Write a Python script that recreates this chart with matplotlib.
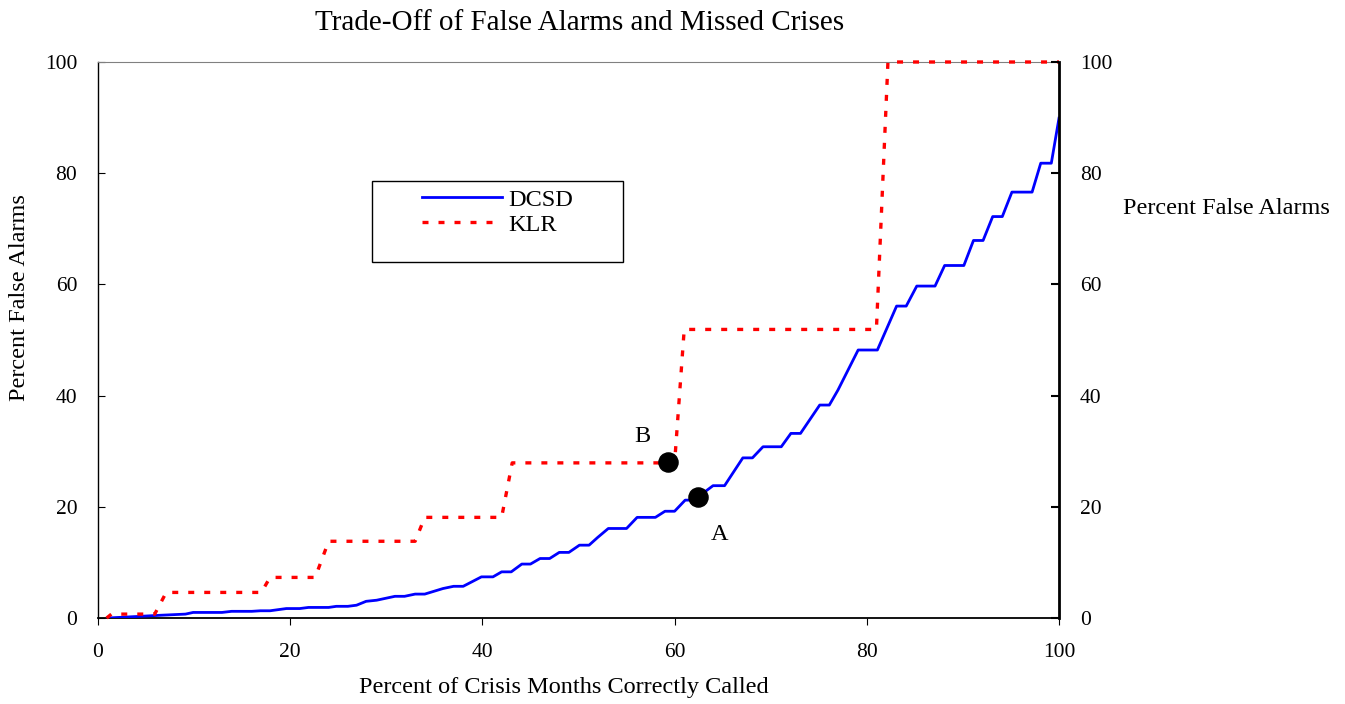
import matplotlib
matplotlib.use('Agg')
import matplotlib.pyplot as plt
from matplotlib.patches import Rectangle
from matplotlib.lines import Line2D

plt.rcParams['font.family'] = ['Liberation Serif', 'DejaVu Serif']

# DCSD curve: percent of crisis months called vs percent false alarms
dcsd_x = [1.0, 6.6, 9.1, 9.9, 12.9, 13.9, 16.0, 16.9, 17.9, 19.6, 21.0, 21.9, 24.0,
          24.8, 26.0, 26.9, 27.9, 29.0, 30.9, 31.9, 33.0, 34.0, 35.9, 37.0, 38.0,
          39.9, 41.1, 42.0, 43.0, 44.1, 45.0, 46.0, 47.0, 48.0, 49.0, 50.1, 51.1,
          52.0, 53.1, 55.0, 56.1, 58.0, 59.0, 60.0, 61.1, 62.0, 64.0, 65.2, 67.1,
          68.1, 69.2, 71.1, 72.1, 73.1, 75.1, 76.1, 77.0, 79.1, 81.1, 83.1, 84.1,
          85.2, 87.1, 88.1, 90.1, 91.1, 92.1, 93.1, 94.1, 95.1, 97.2, 98.1, 99.2, 100.0]
dcsd_y = [0.0, 0.5, 0.7, 1.0, 1.0, 1.2, 1.2, 1.3, 1.3, 1.7, 1.7, 1.9, 1.9,
          2.1, 2.1, 2.3, 3.0, 3.2, 3.9, 3.9, 4.3, 4.3, 5.3, 5.7, 5.7,
          7.4, 7.4, 8.3, 8.3, 9.7, 9.7, 10.7, 10.7, 11.8, 11.8, 13.1, 13.1,
          14.5, 16.1, 16.1, 18.1, 18.1, 19.2, 19.2, 21.2, 21.2, 23.8, 23.8, 28.8,
          28.8, 30.8, 30.8, 33.2, 33.2, 38.3, 38.3, 41.0, 48.2, 48.2, 56.1, 56.1,
          59.7, 59.7, 63.4, 63.4, 67.9, 67.9, 72.2, 72.2, 76.6, 76.6, 81.8, 81.8, 89.9]

# KLR curve
klr_x = [0.9, 1.4, 5.9, 7.1, 17.0, 17.9, 22.6, 24.0, 33.0, 34.0, 42.0, 43.1,
         60.0, 61.0, 81.0, 82.2, 100.0]
klr_y = [0.0, 0.7, 0.7, 4.6, 4.6, 7.3, 7.3, 13.8, 13.8, 18.1, 18.1, 27.9,
         27.9, 51.9, 51.9, 100.0, 100.0]

# highlighted points
point_labels = ['A', 'B']
point_x = [62.4, 59.3]
point_y = [21.7, 28.0]

ticks = [0, 20, 40, 60, 80, 100]
fs = 15.5
lfs = 17.5
dash = (0, (1.8, 3.0))

fig = plt.figure(figsize=(13.45, 7.04), dpi=100)
ax = fig.add_axes([98 / 1345, 1 - 618 / 704, (1059 - 98) / 1345, (618 - 62) / 704])

ax.plot(dcsd_x, dcsd_y, color='#0000ff', lw=2.0, zorder=3)
ax.plot(klr_x, klr_y, color='#ff0000', lw=2.4, linestyle=dash,
        clip_on=False, zorder=4)
ax.scatter(point_x, point_y, s=190, color='black', zorder=5)
ax.text(56.6, 32.6, point_labels[1], fontsize=lfs, ha='center', va='center')
ax.text(64.7, 15.0, point_labels[0], fontsize=lfs, ha='center', va='center')

ax.set_xlim(0, 100)
ax.set_ylim(0, 100)
ax.set_xticks(ticks)
ax.set_yticks(ticks)
ax.tick_params(axis='x', direction='out', length=5, pad=13, labelsize=fs)
ax.tick_params(axis='y', direction='in', length=5, pad=15, labelsize=fs)
ax.spines['top'].set_color('#808080')
ax.spines['right'].set_visible(False)
ax.spines['left'].set_linewidth(1.0)
ax.spines['bottom'].set_linewidth(1.3)

ax2 = ax.twinx()
ax2.set_ylim(0, 100)
ax2.set_yticks(ticks)
ax2.tick_params(axis='y', direction='in', length=6, width=1.5, pad=15, labelsize=fs)
for s in ['top', 'left', 'bottom']:
    ax2.spines[s].set_visible(False)
ax2.spines['right'].set_linewidth(2.0)

# legend box
ax.add_patch(Rectangle((28.5, 64.0), 26.1, 14.6, transform=ax.transData,
                       facecolor='white', edgecolor='black', lw=1.0, zorder=2))
handles = [Line2D([], [], color='#0000ff', lw=2.0),
           Line2D([], [], color='#ff0000', lw=2.4, linestyle=dash)]
leg = ax.legend(handles, ['DCSD', 'KLR'], loc='upper left',
                bbox_to_anchor=(0.314, 0.811), frameon=False, fontsize=lfs,
                handlelength=3.3, handletextpad=0.28, labelspacing=0.12)

fig.text(580 / 1345, 1 - 23 / 704, 'Trade-Off of False Alarms and Missed Crises',
         ha='center', va='center', fontsize=21)
fig.text(564 / 1345, 1 - 688 / 704, 'Percent of Crisis Months Correctly Called',
         ha='center', va='center', fontsize=lfs)
fig.text(20 / 1345, 1 - 298 / 704, 'Percent False Alarms', rotation=90,
         ha='center', va='center', fontsize=lfs)
fig.text(1123 / 1345, 1 - 208 / 704, 'Percent False Alarms',
         ha='left', va='center', fontsize=lfs)

fig.savefig('out.png', dpi=100)
